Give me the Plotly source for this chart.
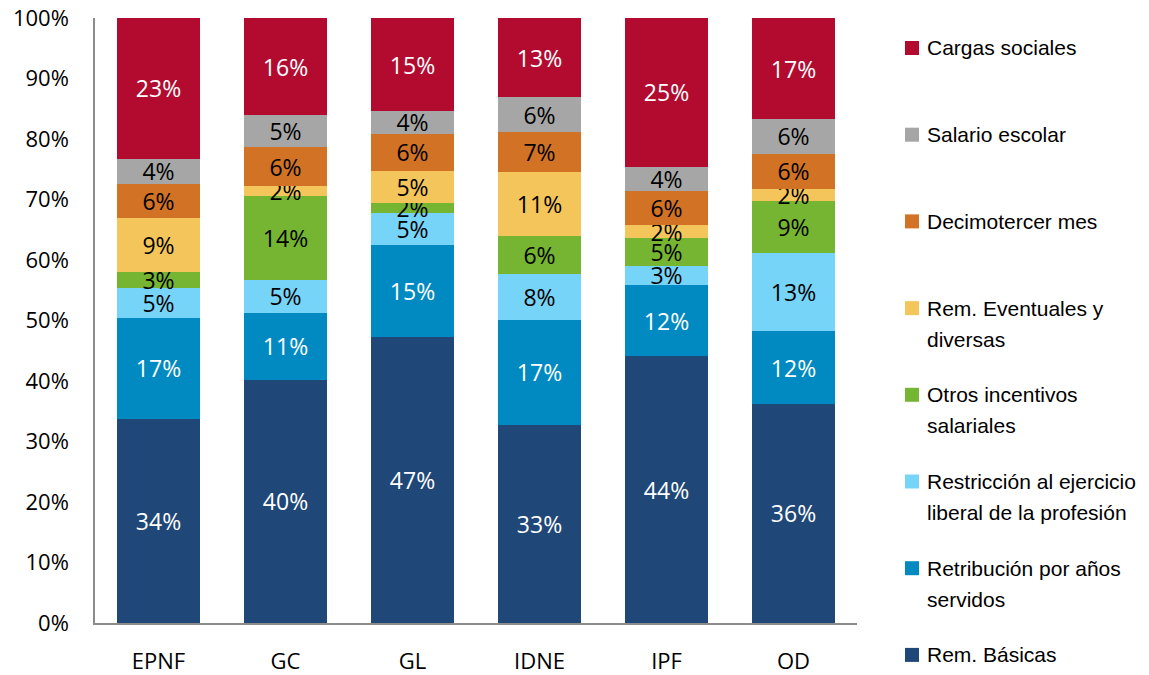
import plotly.graph_objects as go

categories = ["EPNF", "GC", "GL", "IDNE", "IPF", "OD"]

series_names = [
    "Rem. Básicas",
    "Retribución por años servidos",
    "Restricción al ejercicio liberal de la profesión",
    "Otros incentivos salariales",
    "Rem. Eventuales y diversas",
    "Decimotercer mes",
    "Salario escolar",
    "Cargas sociales",
]
legend_lines = [
    ["Rem. Básicas"],
    ["Retribución por años", "servidos"],
    ["Restricción al ejercicio", "liberal de la profesión"],
    ["Otros incentivos", "salariales"],
    ["Rem. Eventuales y", "diversas"],
    ["Decimotercer mes"],
    ["Salario escolar"],
    ["Cargas sociales"],
]

rem_basicas = [33.8, 40.2, 47.3, 32.8, 44.1, 36.2]
retribucion = [16.6, 11.1, 15.1, 17.3, 11.8, 12.0]
restriccion = [5.0, 5.4, 5.4, 7.6, 3.1, 12.9]
otros_incentivos = [2.6, 13.9, 1.6, 6.2, 4.6, 8.7]
rem_eventuales = [9.0, 1.6, 5.3, 10.6, 2.2, 1.9]
decimotercer = [5.6, 6.4, 6.2, 6.7, 5.6, 5.9]
salario_escolar = [4.1, 5.3, 3.7, 5.7, 4.0, 5.7]
cargas_sociales = [23.3, 16.1, 15.4, 13.1, 24.6, 16.7]

series_values = [rem_basicas, retribucion, restriccion, otros_incentivos,
                 rem_eventuales, decimotercer, salario_escolar, cargas_sociales]

colors = ["#1F4778", "#018AC1", "#76D4F8", "#75B532",
          "#F4C55A", "#D17225", "#A6A6A6", "#B30B30"]
text_colors = ["white", "white", "black", "black", "black", "black", "black", "white"]

ytick_vals = [0, 10, 20, 30, 40, 50, 60, 70, 80, 90, 100]
ytick_text = [f"{v}%" for v in ytick_vals]

# page body has an 8px margin; the figure is sized to fill the rest of the window
OFF = 8
W, H = 1149 - OFF, 675 - OFF
PLOT_L, PLOT_R, PLOT_T, PLOT_B = 95, 857, 18, 623   # page pixels
ML, MR = PLOT_L - OFF, W - (PLOT_R - OFF)
MT, MB = PLOT_T - OFF, H - (PLOT_B - OFF)
PW, PH = PLOT_R - PLOT_L, PLOT_B - PLOT_T


def px_x(px):
    return (px - PLOT_L) / PW


def px_y(py):
    return (PLOT_B - py) / PH


fig = go.Figure()
for name, vals, col, tcol in zip(series_names, series_values, colors, text_colors):
    fig.add_trace(go.Bar(
        x=categories, y=vals, name=name,
        marker=dict(color=col, line=dict(width=0)),
        texttemplate="%{y:.0f}%",
        textposition="inside",
        insidetextanchor="middle",
        textangle=0,
        textfont=dict(family="Open Sans", size=23, color=tcol),
        hoverinfo="skip",
        showlegend=False,
    ))

# custom legend (top to bottom = reversed stack order)
start_y = 48
step = 86.7
for i, idx in enumerate(reversed(range(len(series_names)))):
    cy = start_y + i * step
    fig.add_shape(type="rect", xref="paper", yref="paper",
                  x0=px_x(905), x1=px_x(919), y0=px_y(cy + 7), y1=px_y(cy - 7),
                  fillcolor=colors[idx], line=dict(width=0))
    for j, line in enumerate(legend_lines[idx]):
        fig.add_annotation(xref="paper", yref="paper",
                           x=px_x(925), y=px_y(cy + j * 31),
                           xanchor="left", yanchor="middle",
                           text=line, showarrow=False,
                           font=dict(family="Liberation Sans, Arial, sans-serif",
                                     size=21, color="black"))

fig.update_layout(
    barmode="stack",
    bargap=0.354,
    width=W, height=H,
    margin=dict(l=ML, r=MR, t=MT, b=MB, autoexpand=False),
    plot_bgcolor="white", paper_bgcolor="white",
    uniformtext=dict(mode="show", minsize=23),
    showlegend=False,
)
fig.update_yaxes(
    range=[0, 100], tickvals=ytick_vals, ticktext=ytick_text,
    showgrid=False, zeroline=False, automargin=False,
    showline=True, linecolor="#8C8C8C", linewidth=1.5,
    ticks="", ticklabelstandoff=20, ticklabeloverflow="allow",
    tickfont=dict(family="Open Sans", size=22, color="black"),
)
fig.update_xaxes(
    showgrid=False, showline=True, linecolor="#8C8C8C", linewidth=1.5,
    ticks="", ticklabelstandoff=18, automargin=False, ticklabeloverflow="allow",
    tickfont=dict(family="Open Sans", size=22, color="black"),
)

fig.write_html("out.html")
